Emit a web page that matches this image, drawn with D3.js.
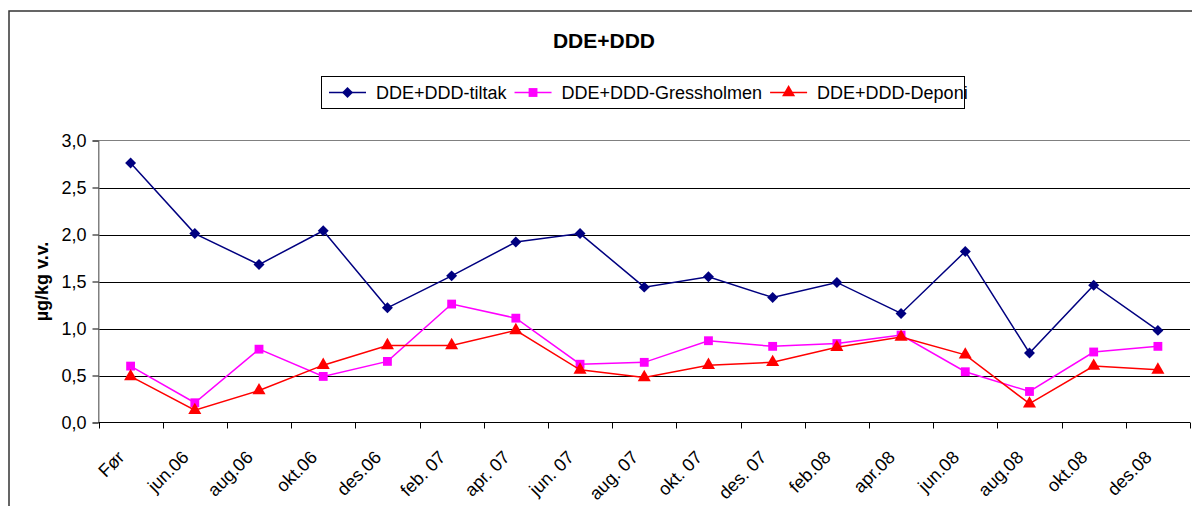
<html>
  <head>
    <script src="https://d3js.org/d3.v7.min.js"></script>
    <style>
      body { margin: 0; background: #fff; }
      svg { font-family: "Liberation Sans", Arial, sans-serif; }
      .grid line { stroke: #000; stroke-width: 1; }
      .xlab { font-size: 18px; fill: #000; }
    </style>
  </head>
  <body>
    <div id="chart"></div>
    <script>
var categories = ["Før", "jun.06", "aug.06", "okt.06", "des.06", "feb. 07", "apr. 07", "jun. 07",
  "aug. 07", "okt. 07", "des. 07", "feb.08", "apr.08", "jun.08", "aug.08", "okt.08", "des.08"];
var tiltak = [2.76, 2.01, 1.68, 2.04, 1.22, 1.56, 1.92, 2.01, 1.44, 1.55, 1.33, 1.49, 1.16, 1.82, 0.74, 1.46, 0.98];
var gressholmen = [0.60, 0.21, 0.78, 0.49, 0.65, 1.26, 1.11, 0.62, 0.64, 0.87, 0.81, 0.84, 0.93, 0.54, 0.33, 0.75, 0.81];
var deponi = [0.49, 0.13, 0.34, 0.61, 0.82, 0.82, 0.98, 0.56, 0.48, 0.61, 0.64, 0.80, 0.91, 0.72, 0.20, 0.60, 0.56];
var seriesNames = ["DDE+DDD-tiltak", "DDE+DDD-Gressholmen", "DDE+DDD-Deponi"];
var yTicks = [0, 0.5, 1, 1.5, 2, 2.5, 3];

var width = 1192, height = 506;
var plot = {left: 98.5, right: 1190, top: 140.5, bottom: 422.5};

var series = [
  {name: seriesNames[0], values: tiltak, color: "#000080", symbol: d3.symbolSquare, size: 60, rot: 45},
  {name: seriesNames[1], values: gressholmen, color: "#ff00ff", symbol: d3.symbolSquare, size: 78, rot: 0},
  {name: seriesNames[2], values: deponi, color: "#ff0000", symbol: d3.symbolTriangle, size: 74, rot: 0}
];

var svg = d3.select("#chart").append("svg")
  .attr("width", width)
  .attr("height", height);

/* outer chart border */
svg.append("rect")
  .attr("x", 9).attr("y", 11)
  .attr("width", 1200).attr("height", 520)
  .attr("fill", "none")
  .attr("stroke", "#333")
  .attr("stroke-width", 1.5);

/* Scale */
var x = d3.scaleBand()
  .domain(categories)
  .range([plot.left, plot.right])
  .padding(0);
var cx = d => x(d) + x.bandwidth() / 2;

var y = d3.scaleLinear()
  .domain([0, 3])
  .range([plot.bottom, plot.top]);

var fmt = v => d3.format(".1f")(v).replace(".", ",");

/* gridlines */
svg.append("g").attr("class", "grid")
  .selectAll("line")
  .data(yTicks.filter(t => t > 0 && t < 3)).enter()
  .append("line")
  .attr("x1", plot.left).attr("x2", plot.right)
  .attr("y1", d => Math.round(y(d)) + 0.5)
  .attr("y2", d => Math.round(y(d)) + 0.5);

/* plot area frame (grey) */
svg.append("path")
  .attr("d", `M${plot.left},${plot.bottom}V${y(3)}H${plot.right}`)
  .attr("fill", "none")
  .attr("stroke", "#808080")
  .attr("stroke-width", 1);

/* y axis */
var yAxis = d3.axisLeft(y).tickValues(yTicks).tickSize(6).tickFormat(fmt);
var yg = svg.append("g")
  .attr("transform", `translate(${plot.left},0)`)
  .call(yAxis);
yg.select(".domain").attr("stroke", "#808080");
yg.selectAll(".tick line").attr("stroke", "#000");
yg.selectAll(".tick text")
  .attr("x", -12)
  .attr("fill", "#000")
  .style("font-size", "18px")
  .style("font-family", "Liberation Sans, Arial, sans-serif");

/* x axis: ticks between categories */
var edges = categories.map(c => x(c)).concat([x(categories[categories.length - 1]) + x.bandwidth()]);
svg.append("line")
  .attr("x1", plot.left).attr("x2", plot.right)
  .attr("y1", plot.bottom).attr("y2", plot.bottom)
  .attr("stroke", "#000");
svg.append("g").selectAll("line")
  .data(edges).enter()
  .append("line")
  .attr("x1", d => Math.round(d) + 0.5).attr("x2", d => Math.round(d) + 0.5)
  .attr("y1", plot.bottom).attr("y2", plot.bottom + 6)
  .attr("stroke", "#000");

svg.append("g").selectAll("text")
  .data(categories).enter()
  .append("text")
  .attr("class", "xlab")
  .attr("text-anchor", "end")
  .attr("transform", d => `translate(${cx(d) - 5},${plot.bottom + 36}) rotate(-45)`)
  .text(d => d);

/* y axis title */
svg.append("text")
  .attr("transform", `translate(48,${(plot.top + plot.bottom) / 2}) rotate(-90)`)
  .attr("text-anchor", "middle")
  .style("font-size", "18px")
  .style("font-weight", "bold")
  .text("µg/kg v.v.");

/* title */
svg.append("text")
  .attr("x", 604).attr("y", 48)
  .attr("text-anchor", "middle")
  .style("font-size", "21px")
  .style("font-weight", "bold")
  .text("DDE+DDD");

/* lines and markers */
var line = d3.line()
  .x((d, i) => cx(categories[i]))
  .y(d => y(d));

series.forEach(function(s) {
  svg.append("path")
    .attr("d", line(s.values))
    .attr("fill", "none")
    .attr("stroke", s.color)
    .attr("stroke-width", 1.5);
  svg.append("g").selectAll("path")
    .data(s.values).enter()
    .append("path")
    .attr("d", d3.symbol().type(s.symbol).size(s.size))
    .attr("transform", (d, i) => `translate(${cx(categories[i])},${y(d)}) rotate(${s.rot})`)
    .attr("fill", s.color);
});

/* legend */
var legend = svg.append("g");
legend.append("rect")
  .attr("x", 321.5).attr("y", 76.5)
  .attr("width", 643).attr("height", 32)
  .attr("fill", "#fff")
  .attr("stroke", "#000");
var lx = 329;
series.forEach(function(s) {
  legend.append("line")
    .attr("x1", lx).attr("x2", lx + 37)
    .attr("y1", 92.5).attr("y2", 92.5)
    .attr("stroke", s.color).attr("stroke-width", 1.5);
  legend.append("path")
    .attr("d", d3.symbol().type(s.symbol).size(s.size))
    .attr("transform", `translate(${lx + 18.5},92.5) rotate(${s.rot})`)
    .attr("fill", s.color);
  var t = legend.append("text")
    .attr("x", lx + 47).attr("y", 99)
    .style("font-size", "18px")
    .text(s.name);
  lx = lx + 47 + t.node().getComputedTextLength() + 8;
});
    </script>
  </body>
</html>
